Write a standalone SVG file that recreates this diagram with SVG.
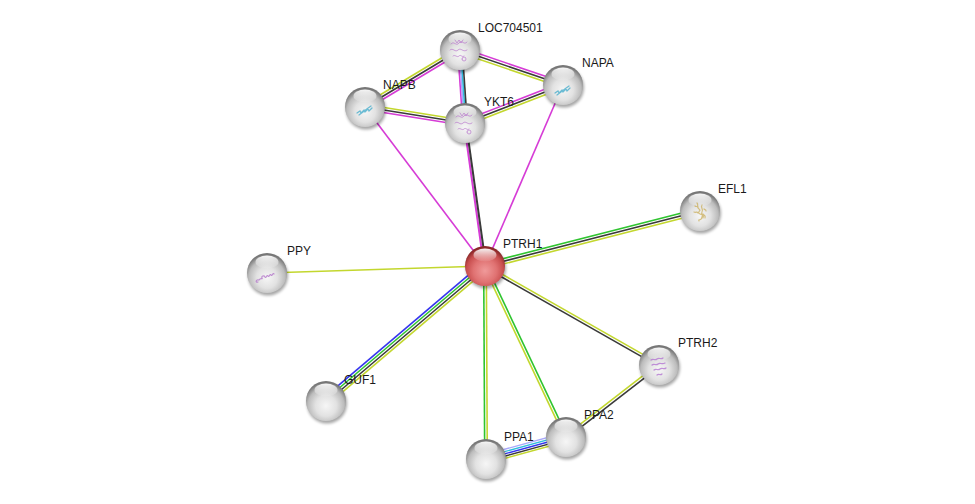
<svg xmlns="http://www.w3.org/2000/svg" xmlns:xlink="http://www.w3.org/1999/xlink" width="975" height="504" viewBox="0 0 975 504">
<style>
.e line{stroke-width:1.6;fill:none}
.mg{stroke:#d63cd6}
.bk{stroke:#3a3a3a}
.yg{stroke:#c3d72e}
.gr{stroke:#2fc42f}
.bl{stroke:#3535ee}
.cy{stroke:#2fbcdc}
.lv{stroke:#a8a8fa}
.lbl{font-family:"Liberation Sans",Arial,sans-serif;font-size:12px;fill:#1a1a1a}
.st{fill:none;stroke-width:0.9;stroke-linecap:round;opacity:0.75}
</style>
<defs>
<radialGradient id="gGray" cx="50%" cy="62%" r="58%">
<stop offset="0" stop-color="#f6f6f6"/>
<stop offset="0.45" stop-color="#e2e2e2"/>
<stop offset="0.78" stop-color="#bcbcbc"/>
<stop offset="1" stop-color="#777777"/>
</radialGradient>
<radialGradient id="gRed" cx="50%" cy="62%" r="58%">
<stop offset="0" stop-color="#f09a9a"/>
<stop offset="0.5" stop-color="#e07272"/>
<stop offset="0.8" stop-color="#c84e4e"/>
<stop offset="1" stop-color="#8a2828"/>
</radialGradient>
<linearGradient id="gHi" x1="0" y1="0" x2="0" y2="1">
<stop offset="0" stop-color="#ffffff" stop-opacity="0.95"/>
<stop offset="1" stop-color="#ffffff" stop-opacity="0.05"/>
</linearGradient>
<filter id="blur" x="-50%" y="-50%" width="200%" height="200%">
<feGaussianBlur stdDeviation="1.6"/>
</filter>
<g id="sphere">
<circle cx="1" cy="2.5" r="20" fill="#000" opacity="0.35" filter="url(#blur)"/>
<circle r="20" fill="url(#gGray)"/>
<ellipse cx="0" cy="-11" rx="11.5" ry="6.5" fill="url(#gHi)"/>
</g>
<g id="sphereRed">
<circle cx="1" cy="2.5" r="20" fill="#000" opacity="0.35" filter="url(#blur)"/>
<circle r="20" fill="url(#gRed)"/>
<ellipse cx="0" cy="-11" rx="11.5" ry="6.5" fill="url(#gHi)"/>
</g>
</defs>
<rect width="975" height="504" fill="#ffffff"/>

<g id="edges">
<g class="e" transform="translate(365,107) rotate(-30.96)">
<line class="yg" x1="0" y1="-2.6" x2="110.8" y2="-2.6"/>
<line class="bk" x1="0" y1="0" x2="110.8" y2="0"/>
<line class="mg" x1="0" y1="2.6" x2="110.8" y2="2.6"/>
</g>
<g class="e" transform="translate(460,50) rotate(18.77)">
<line class="mg" x1="0" y1="-2.6" x2="108.8" y2="-2.6"/>
<line class="bk" x1="0" y1="0" x2="108.8" y2="0"/>
<line class="yg" x1="0" y1="2.6" x2="108.8" y2="2.6"/>
</g>
<g class="e" transform="translate(460,50) rotate(86.08)">
<line class="mg" x1="0" y1="2.25" x2="73.2" y2="2.25"/>
<line class="lv" x1="0" y1="0.75" x2="73.2" y2="0.75"/>
<line class="cy" x1="0" y1="-0.75" x2="73.2" y2="-0.75"/>
<line class="bk" x1="0" y1="-2.25" x2="73.2" y2="-2.25"/>
</g>
<g class="e" transform="translate(365,107) rotate(9.09)">
<line class="yg" x1="0" y1="-2.6" x2="101.3" y2="-2.6"/>
<line class="bk" x1="0" y1="0" x2="101.3" y2="0"/>
<line class="mg" x1="0" y1="2.6" x2="101.3" y2="2.6"/>
</g>
<g class="e" transform="translate(465,123) rotate(-21.19)">
<line class="mg" x1="0" y1="-2.6" x2="105.1" y2="-2.6"/>
<line class="bk" x1="0" y1="0" x2="105.1" y2="0"/>
<line class="yg" x1="0" y1="2.6" x2="105.1" y2="2.6"/>
</g>
<g class="e">
<line class="mg" x1="365" y1="107" x2="485" y2="266"/>
<line class="mg" x1="485" y1="266" x2="563" y2="85"/>
<line class="yg" x1="267" y1="273" x2="485" y2="266"/>
</g>
<g class="e" transform="translate(465,123) rotate(82.04)">
<line class="mg" x1="0" y1="1" x2="144.4" y2="1" style="stroke-width:2"/>
<line class="bk" x1="0" y1="-1" x2="144.4" y2="-1" style="stroke-width:2"/>
</g>
<g class="e" transform="translate(485,266) rotate(-14.35)">
<line class="gr" x1="0" y1="-2.6" x2="221.9" y2="-2.6"/>
<line class="bk" x1="0" y1="0" x2="221.9" y2="0"/>
<line class="yg" x1="0" y1="2.6" x2="221.9" y2="2.6"/>
</g>
<g class="e" transform="translate(326,401) rotate(-40.33)">
<line class="bl" x1="0" y1="-3.9" x2="208.6" y2="-3.9"/>
<line class="gr" x1="0" y1="-1.3" x2="208.6" y2="-1.3"/>
<line class="bk" x1="0" y1="1.3" x2="208.6" y2="1.3"/>
<line class="yg" x1="0" y1="3.9" x2="208.6" y2="3.9"/>
</g>
<g class="e" transform="translate(485,266) rotate(89.7)">
<line class="gr" x1="0" y1="1.3" x2="193" y2="1.3"/>
<line class="yg" x1="0" y1="-1.3" x2="193" y2="-1.3"/>
</g>
<g class="e" transform="translate(485,266) rotate(64.65)">
<line class="yg" x1="0" y1="1.3" x2="189.2" y2="1.3"/>
<line class="gr" x1="0" y1="-1.3" x2="189.2" y2="-1.3"/>
</g>
<g class="e" transform="translate(485,266) rotate(29.64)">
<line class="yg" x1="0" y1="-1.3" x2="200.2" y2="-1.3"/>
<line class="bk" x1="0" y1="1.3" x2="200.2" y2="1.3"/>
</g>
<g class="e" transform="translate(566,437) rotate(-37.75)">
<line class="yg" x1="0" y1="-1.3" x2="117.6" y2="-1.3"/>
<line class="bk" x1="0" y1="1.3" x2="117.6" y2="1.3"/>
</g>
<g class="e" transform="translate(486,459) rotate(-15.38)">
<line class="lv" x1="0" y1="-4.4" x2="83" y2="-4.4" style="stroke-width:1.4"/>
<line class="cy" x1="0" y1="-2.2" x2="83" y2="-2.2" style="stroke-width:1.4"/>
<line class="bl" x1="0" y1="0" x2="83" y2="0" style="stroke-width:1.4"/>
<line class="bk" x1="0" y1="2.2" x2="83" y2="2.2" style="stroke-width:1.4"/>
<line class="yg" x1="0" y1="4.4" x2="83" y2="4.4" style="stroke-width:1.4"/>
</g>
</g>

<g id="node-LOC704501">
<use href="#sphere" x="460" y="50"/>
<path class="st" stroke="#b774cc" d="M451,44 c3,-4 5,3 8,-1 s5,3 8,-1 M450,50 c3,-3 5,3 8,0 s5,3 9,0 M453,56 c2,-2 4,2 6,0 s3,2 5,0 M455,40 l2,3 l2,-3 l2,3 l2,-3 M462,59 a2,2 0 1,0 4,0 a2,2 0 1,0 -4,0"/>
<text class="lbl" x="478" y="32">LOC704501</text>
</g>
<g id="node-NAPA">
<use href="#sphere" x="563" y="85"/>
<path class="st" stroke="#3fa9c9" d="M555,93 l3,-2 l1,2 l3,-3 l1,2 l3,-3 l1,2 l3,-3 M557,95 c3,-2 6,-5 12,-9" style="stroke-width:1.3"/>
<text class="lbl" x="582" y="67">NAPA</text>
</g>
<g id="node-NAPB">
<use href="#sphere" x="365" y="107"/>
<path class="st" stroke="#3fa9c9" d="M357,113 l3,-2 l1,2 l3,-3 l1,2 l3,-3 l1,2 l3,-3 M359,115 c3,-2 6,-5 12,-9" style="stroke-width:1.3"/>
<text class="lbl" x="383" y="89">NAPB</text>
</g>
<g id="node-YKT6">
<use href="#sphere" x="465" y="123"/>
<path class="st" stroke="#b774cc" d="M456,117 c3,-4 5,3 8,-1 s5,3 8,-1 M455,123 c3,-3 5,3 8,0 s5,3 9,0 M458,129 c2,-2 4,2 6,0 s3,2 5,0 M460,113 l2,3 l2,-3 l2,3 l2,-3 M467,132 a2,2 0 1,0 4,0 a2,2 0 1,0 -4,0"/>
<text class="lbl" x="484" y="106">YKT6</text>
</g>
<g id="node-EFL1">
<use href="#sphere" x="700" y="211"/>
<path class="st" stroke="#c9ad5a" d="M697,203 c2,2 -1,4 2,6 s-3,3 1,5 s3,-2 2,3 s-4,1 -3,4 M702,205 c-2,3 2,4 0,7 s3,3 1,6 M694,212 c2,1 3,-1 4,1 M703,214 c1,2 3,1 2,4 M695,206 c1,1 2,0 3,1 M704,209 c1,1 2,0 2,2" style="stroke-width:1.2"/>
<text class="lbl" x="718" y="193">EFL1</text>
</g>
<g id="node-PTRH1">
<use href="#sphereRed" x="485" y="266"/>
<text class="lbl" x="503" y="248">PTRH1</text>
</g>
<g id="node-PPY">
<use href="#sphere" x="267" y="273"/>
<path class="st" stroke="#b070c8" d="M259,280 c2,-3 4,0 3,-2 s2,-3 3,-1 s2,-3 3,-1 s2,-3 3,-1 s2,-3 3,-1 M258,282 c-3,1 -2,-3 1,-2" style="stroke-width:1.2"/>
<text class="lbl" x="287" y="255">PPY</text>
</g>
<g id="node-PTRH2">
<use href="#sphere" x="659" y="365"/>
<path class="st" stroke="#b070d0" d="M651,360 c2,-2 4,1 6,-1 s4,1 6,-1 M652,365 c2,-2 4,1 6,-1 s4,1 7,-1 M654,370 c2,-2 4,1 6,-1 s4,1 6,-1 M657,375 c2,-2 3,1 5,-1" style="stroke-width:1.2"/>
<text class="lbl" x="678" y="347">PTRH2</text>
</g>
<g id="node-GUF1">
<use href="#sphere" x="326" y="401"/>
<text class="lbl" x="344" y="384">GUF1</text>
</g>
<g id="node-PPA2">
<use href="#sphere" x="566" y="437"/>
<text class="lbl" x="584" y="419">PPA2</text>
</g>
<g id="node-PPA1">
<use href="#sphere" x="486" y="459"/>
<text class="lbl" x="504" y="441">PPA1</text>
</g>
</svg>
